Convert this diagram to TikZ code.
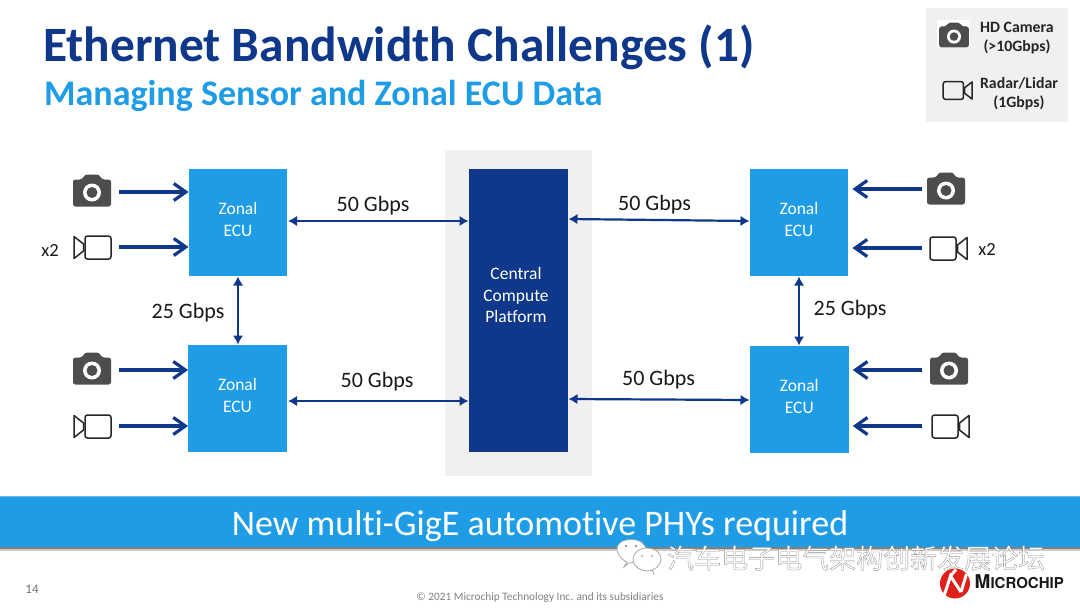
\documentclass[tikz,border=0pt]{standalone}
\usepackage{fontspec}
\setmainfont[Ligatures=NoCommon]{Carlito}
\newfontfamily\cjkface{Noto Sans CJK SC}
\newfontfamily\logoface{TeX Gyre Heros}
\usetikzlibrary{arrows.meta,calc}
\definecolor{zonalblue}{HTML}{1F9CE6}
\definecolor{navy}{HTML}{0F388A}
\definecolor{panelgrey}{HTML}{F0F0F0}
\definecolor{icongrey}{HTML}{4D4D4D}
\definecolor{titleblue}{HTML}{0F388A}
\definecolor{chipred}{HTML}{E0201B}
\newcommand{\fs}[1]{\fontsize{#1}{#1}\selectfont}
\newcommand{\fsl}[2]{\fontsize{#1}{#2}\selectfont}
\tikzset{
  zonal/.style={fill=zonalblue,text=white,minimum width=98.5,minimum height=107,inner sep=0,align=center,
    text depth=6pt,font=\fsl{17.5}{22}},
  rate/.style={font=\fs{22},text=black!90,inner sep=0},
  link/.style={draw=navy,line width=2.2,{Latex[length=9,width=10.5]}-{Latex[length=9,width=10.5]}},
  feed/.style={draw=navy,line width=3.2,-{Straight Barb[length=12,width=17,line width=3.2]}},
  slot/.style={minimum width=38,minimum height=24,inner sep=0},
  note/.style={font=\fsl{15.8}{19}\bfseries,text=black!85,inner sep=0,align=center},
  camera/.pic={
    \fill[icongrey,rounded corners=2.5] (-19,-11) -- (-10,-11) -- (-7,-16) -- (7,-16) -- (10,-11) -- (19,-11)
      -- (19,16) -- (-19,16) -- cycle;
    \fill[white] (0,2) circle (9);
    \fill[icongrey] (0,2) circle (5.5);
  },
  videocam/.pic={
    \draw[line width=1.5,black!85,rounded corners=2.5] (-19,-11.5) rectangle (7,11.5);
    \draw[line width=1.5,black!85,line join=round] (8.5,-3.5) -- (18,-11) -- (18,11) -- (8.5,3.5) -- cycle;
  }
}
\begin{document}
\begin{tikzpicture}[x=1pt,y=-1pt]
\useasboundingbox (0,0) rectangle (1080,608);
\fill[white] (0,0) rectangle (1080,608);

% headline
\node[anchor=west,inner sep=0,text=titleblue,font=\fs{49.4}\bfseries] (title) at (43,47.5) {Ethernet Bandwidth Challenges (1)};
\node[anchor=west,inner sep=0,text=zonalblue,font=\fs{36}\bfseries] (subtitle) at (44,96) {Managing Sensor and Zonal ECU Data};

% legend panel
\fill[panelgrey] (926,8) rectangle (1068,122);
\fill[white] (937,20) rectangle (970,48);
\pic[scale=.78] at (954,35) {camera};
\pic[scale=.78] at (958,90.5) {videocam};
\node[note] (legcam) at (1017,38) {HD Camera\\(>10Gbps)};
\node[note] (legrad) at (1019,94) {Radar/Lidar\\(1Gbps)};

% central platform
\fill[panelgrey] (445,150) rectangle (592,476);
\node[fill=navy,minimum width=99,minimum height=283,inner sep=0] (cpu) at (518.5,310.5) {};
\node[text=white,inner sep=0,align=center,font=\fsl{17.5}{21.5}] (cpulabel) at (516,295) {Central\\Compute\\Platform};

% zonal controllers
\node[zonal] (zTL) at (238,222.5) {Zonal\\ECU};
\node[zonal] (zBL) at (237.5,398.5) {Zonal\\ECU};
\node[zonal] (zTR) at (799,222.5) {Zonal\\ECU};
\node[zonal] (zBR) at (799.3,399.5) {Zonal\\ECU};

% high-speed links
\draw[link] (288,221) -- (468.5,221);
\draw[link] (288,401) -- (468.5,401);
\draw[link] (568.5,219) -- (749.5,221);
\draw[link] (568.5,399) -- (749.5,400);
\draw[link] (238,276.5) -- (238,344.5);
\draw[link] (799,276.5) -- (799,345.5);
\node[rate] (r1) at (373,206) {50 Gbps};
\node[rate] (r2) at (377,382) {50 Gbps};
\node[rate] (r3) at (654.5,205) {50 Gbps};
\node[rate] (r4) at (658.5,380) {50 Gbps};
\node[rate] (r5) at (188,313) {25 Gbps};
\node[rate] (r6) at (850,310) {25 Gbps};

% sensors, left side
\node[slot] (s1) at (92,192) {}; \pic at (92,190.5) {camera};
\node[slot] (s2) at (92,247) {}; \pic[xscale=-1] at (92,247.5) {videocam};
\node[slot] (s3) at (92,370) {}; \pic at (92,368.5) {camera};
\node[slot] (s4) at (92,426) {}; \pic[xscale=-1] at (92,426.5) {videocam};
\draw[feed,shorten <=8] (s1.east) -- (s1.east -| zTL.west);
\draw[feed,shorten <=8] (s2.east) -- (s2.east -| zTL.west);
\draw[feed,shorten <=8] (s3.east) -- (s3.east -| zBL.west);
\draw[feed,shorten <=8] (s4.east) -- (s4.east -| zBL.west);

% sensors, right side
\node[slot] (s5) at (946,189) {}; \pic at (946,188.5) {camera};
\node[slot] (s6) at (949,248) {}; \pic at (949,248.5) {videocam};
\node[slot] (s7) at (949,370) {}; \pic at (949,368.5) {camera};
\node[slot] (s8) at (951,426) {}; \pic at (951,426.5) {videocam};
\draw[feed,shorten <=5,shorten >=4] (s5.west) -- (s5.west -| zTR.east);
\draw[feed,shorten <=8,shorten >=4] (s6.west) -- (s6.west -| zTR.east);
\draw[feed,shorten <=8,shorten >=4] (s7.west) -- (s7.west -| zBR.east);
\draw[feed,shorten <=10,shorten >=4] (s8.west) -- (s8.west -| zBR.east);
\node[rate,font=\fs{18.5}] (x2L) at (50,250) {x2};
\node[rate,font=\fs{18.5}] (x2R) at (987,249.5) {x2};

% banner
\fill[black!20] (0,547) rectangle (1080,550.5);
\fill[black!50] (0,547) rectangle (1080,548.7);
\fill[zonalblue!70] (0,496.3) rectangle (1080,497);
\fill[zonalblue] (0,497) rectangle (1080,547);
\node[inner sep=0,text=white,font=\fs{36}] (banner) at (540,526) {New multi-GigE automotive PHYs required};

% footer
\node[inner sep=0,text=black!55,font=\fs{13}] (page) at (32,589.5) {14};
\node[inner sep=0,text=black!50,font=\fs{11.3}] (copy) at (540,597.5) {© 2021 Microchip Technology Inc. and its subsidiaries};

% channel mark
\begin{scope}[draw=black!35,line width=.8,fill=white]
  \filldraw (624,567) -- (627,562) .. controls (620,559) and (617,553) .. (617,549.5)
    .. controls (617,542) and (624,539.5) .. (631,539.5) .. controls (640,539.5) and (646,544) .. (646,550)
    .. controls (646,558) and (636,563) .. (629,563) -- cycle;
  \filldraw (654,575) -- (652.5,570) .. controls (657,568) and (661,564) .. (661,559)
    .. controls (661,552) and (654,548) .. (647,548) .. controls (639,548) and (633,553) .. (633,559.5)
    .. controls (633,566) and (640,571) .. (647,571) .. controls (649,571) and (651,570.5) .. (652.5,570) -- cycle;
  \fill[black!40] (626,546) circle (1.3) (636,546) circle (1.3) (642,556) circle (1) (652,556) circle (1);
\end{scope}
\node[inner sep=0,anchor=west,font=\cjkface\fs{27}] (mark) at (667,558)
  {\special{pdf:code q 2 Tr 0.3 w 0.55 G 1 g}汽车电子电气架构创新发展论坛\special{pdf:code Q}};

% maker logo
\fill[chipred] (955,583.5) circle (15);
\draw[white,line width=3,line join=miter] (944,596) -- (950.5,576) -- (961,592);
\draw[white,line width=3,line join=miter] (950.5,576) -- (956,569.5);
\draw[white,line width=3,line join=miter] (961,592) -- (966.5,574);
\node[inner sep=0,anchor=west,text=black!90,font=\logoface\bfseries] (maker) at (974.5,581.5) {\fs{19}M\fs{15}ICROCHIP};
\end{tikzpicture}
\end{document}
